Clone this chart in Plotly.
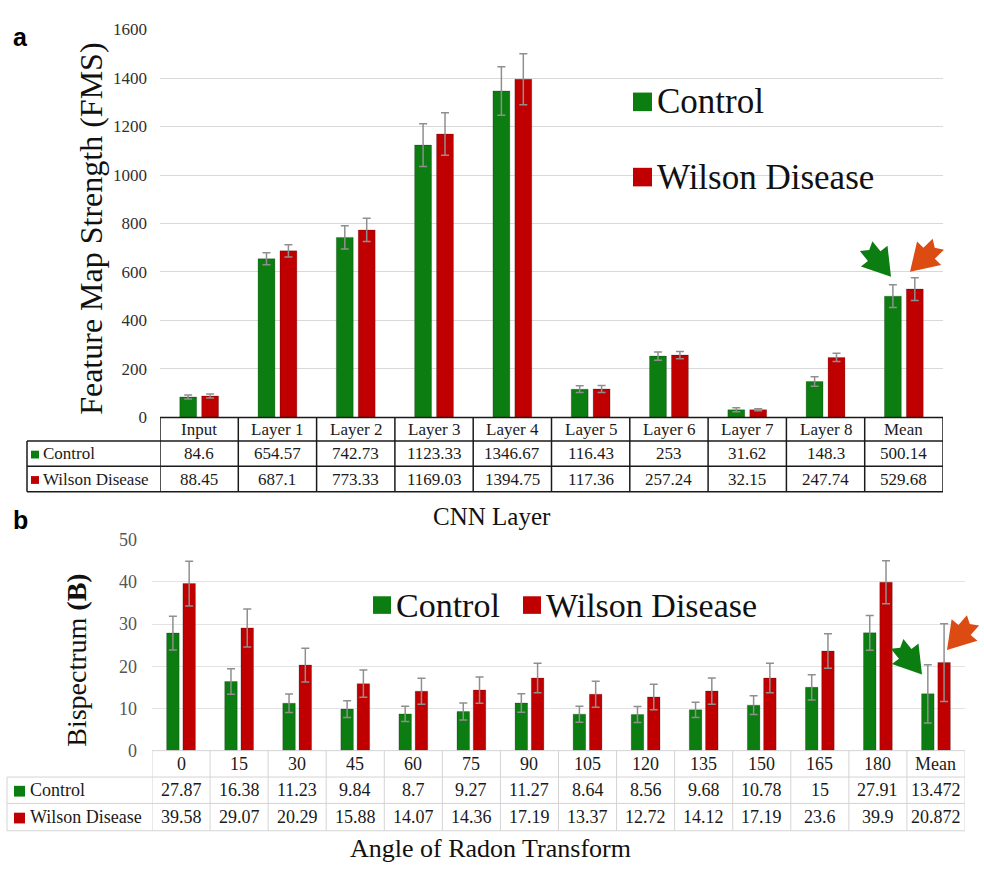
import math
import plotly.graph_objects as go

W, H = 984, 874

# ---- Panel a: feature map strength per CNN layer ----
layers = ["Input", "Layer 1", "Layer 2", "Layer 3", "Layer 4",
          "Layer 5", "Layer 6", "Layer 7", "Layer 8", "Mean"]
fms_control = [84.6, 654.57, 742.73, 1123.33, 1346.67, 116.43, 253, 31.62, 148.3, 500.14]
fms_wilson = [88.45, 687.1, 773.33, 1169.03, 1394.75, 117.36, 257.24, 32.15, 247.74, 529.68]
fms_control_err = [8, 25, 48, 88, 100, 14, 17, 8, 20, 47]
fms_wilson_err = [8, 25, 48, 88, 105, 14, 15, 4, 17, 47]
fms_ticks = [0, 200, 400, 600, 800, 1000, 1200, 1400, 1600]

# ---- Panel b: bispectrum per Radon angle ----
angles = ["0", "15", "30", "45", "60", "75", "90", "105", "120",
          "135", "150", "165", "180", "Mean"]
bis_control = [27.87, 16.38, 11.23, 9.84, 8.7, 9.27, 11.27, 8.64, 8.56, 9.68, 10.78, 15, 27.91, 13.472]
bis_wilson = [39.58, 29.07, 20.29, 15.88, 14.07, 14.36, 17.19, 13.37, 12.72, 14.12, 17.19, 23.6, 39.9, 20.872]
bis_control_err = [4, 3, 2.2, 2, 1.8, 2, 2.2, 1.9, 1.9, 1.8, 2.2, 3, 4.1, 6.9]
bis_wilson_err = [5.3, 4.5, 4, 3.2, 3.1, 3.1, 3.5, 3.1, 3, 3.1, 3.5, 4.1, 5.1, 9.2]
bis_ticks = [0, 10, 20, 30, 40, 50]

series_names = ["Control", "Wilson Disease"]

GREEN = "#0c7d10"
RED = "#c00000"
ORANGE = "#db4b12"
ERR = "#8f8f8f"
SERIF = "Liberation Serif"


def px(x):
    return x / W


def py(y):
    return 1 - y / H


# plot areas (pixel boxes)
A_LEFT, A_RIGHT, A_TOP, A_BOTTOM = 160, 943, 20, 417
B_LEFT, B_RIGHT, B_TOP, B_BOTTOM = 152, 965, 542, 758

fig = go.Figure()


def add_bars(cats, vals, errs, color, name, xa, ya):
    fig.add_trace(go.Bar(
        x=cats, y=vals, name=name, marker_color=color,
        marker_line=dict(width=0.6, color="rgba(0,0,0,0.35)"),
        error_y=dict(type="data", array=errs, color=ERR, thickness=1.5, width=4),
        xaxis=xa, yaxis=ya, showlegend=False,
    ))


add_bars(layers, fms_control, fms_control_err, GREEN, series_names[0], "x", "y")
add_bars(layers, fms_wilson, fms_wilson_err, RED, series_names[1], "x", "y")
add_bars(angles, bis_control, bis_control_err, GREEN, series_names[0], "x2", "y2")
add_bars(angles, bis_wilson, bis_wilson_err, RED, series_names[1], "x2", "y2")

shapes = []
annotations = []


def fmt(v):
    return f"{v:g}"


def draw_table(xref, cats, rows, label_left, plot_left, plot_right, row_edges,
               line_color, line_width, font_size, sq, sq_x, text_x, text_color):
    n = len(cats)
    top, r1, r2, bottom = row_edges
    # vertical cell borders at category boundaries (category serial positions)
    for i in range(n + 1):
        shapes.append(dict(type="line", xref=xref, yref="paper",
                           x0=i - 0.5, x1=i - 0.5, y0=py(top), y1=py(bottom),
                           line=dict(color=line_color, width=line_width)))
    # left border of the row-label column
    shapes.append(dict(type="line", xref="paper", yref="paper",
                       x0=px(label_left), x1=px(label_left), y0=py(r1), y1=py(bottom),
                       line=dict(color=line_color, width=line_width)))
    # horizontal borders
    shapes.append(dict(type="line", xref="paper", yref="paper",
                       x0=px(plot_left), x1=px(plot_right), y0=py(top), y1=py(top),
                       line=dict(color=line_color, width=line_width)))
    for y in (r1, r2, bottom):
        shapes.append(dict(type="line", xref="paper", yref="paper",
                           x0=px(label_left), x1=px(plot_right), y0=py(y), y1=py(y),
                           line=dict(color=line_color, width=line_width)))
    # header text
    hc = (top + r1) / 2
    for i, c in enumerate(cats):
        annotations.append(dict(xref=xref, yref="paper", x=i, y=py(hc), text=c,
                                showarrow=False, xanchor="center", yanchor="middle",
                                font=dict(family=SERIF, size=font_size, color=text_color)))
    # data rows
    centers = [(r1 + r2) / 2, (r2 + bottom) / 2]
    for (name, color, vals), yc in zip(rows, centers):
        shapes.append(dict(type="rect", xref="paper", yref="paper",
                           x0=px(sq_x), x1=px(sq_x + sq),
                           y0=py(yc - sq / 2 + 1), y1=py(yc + sq / 2 + 1),
                           fillcolor=color, line=dict(width=0)))
        annotations.append(dict(xref="paper", yref="paper", x=px(text_x), y=py(yc),
                                text=name, showarrow=False, xanchor="left", yanchor="middle",
                                font=dict(family=SERIF, size=font_size, color=text_color)))
        for i, v in enumerate(vals):
            annotations.append(dict(xref=xref, yref="paper", x=i, y=py(yc), text=fmt(v),
                                    showarrow=False, xanchor="center", yanchor="middle",
                                    font=dict(family=SERIF, size=font_size, color=text_color)))


draw_table("x", layers,
           [(series_names[0], GREEN, fms_control), (series_names[1], RED, fms_wilson)],
           27, A_LEFT, A_RIGHT, (417, 441, 467, 493),
           "#1a1a1a", 1.5, 17, 8, 31, 41, "#1a1a1a")
draw_table("x2", angles,
           [(series_names[0], GREEN, bis_control), (series_names[1], RED, bis_wilson)],
           7, B_LEFT, B_RIGHT, (758, 785, 812, 840),
           "#d4d4d4", 1, 18, 11, 14, 28, "#1a1a1a")


def legend_item(x, y, size, color, label, font_size):
    shapes.append(dict(type="rect", xref="paper", yref="paper",
                       x0=px(x), x1=px(x + size), y0=py(y - size / 2), y1=py(y + size / 2),
                       fillcolor=color, line=dict(width=0)))
    annotations.append(dict(xref="paper", yref="paper", x=px(x + size + 3), y=py(y),
                            text=label, showarrow=False, xanchor="left", yanchor="middle",
                            font=dict(family=SERIF, size=font_size, color="#111111")))


legend_item(633, 94, 19, GREEN, series_names[0], 35)
legend_item(633, 171, 19, RED, series_names[1], 35)
legend_item(373, 609, 18, GREEN, series_names[0], 34)
legend_item(523, 609, 18, RED, series_names[1], 34)


def block_arrow(tip, dx, dy, color, length=40, head_len=27, head_w=34, shaft_w=16, notch=5):
    norm = math.hypot(dx, dy)
    ux, uy = dx / norm, dy / norm        # tail -> tip direction
    nx, ny = -uy, ux
    tx, ty = tip
    local = [(0, 0), (head_len, head_w / 2), (head_len, shaft_w / 2),
             (length, shaft_w / 2), (length - notch, 0), (length, -shaft_w / 2),
             (head_len, -shaft_w / 2), (head_len, -head_w / 2)]
    pts = [(tx - a * ux + b * nx, ty - a * uy + b * ny) for a, b in local]
    path = "M " + " L ".join(f"{px(x):.5f},{py(y):.5f}" for x, y in pts) + " Z"
    shapes.append(dict(type="path", xref="paper", yref="paper", path=path,
                       fillcolor=color, line=dict(width=0)))


block_arrow((891, 273), 0.62, 0.78, GREEN)
block_arrow((910, 268), -0.7, 0.7, ORANGE)
block_arrow((922, 680), 0.62, 0.78, GREEN)
block_arrow((947, 655), -0.65, 0.76, ORANGE)

# axis titles and panel letters
annotations += [
    dict(xref="paper", yref="paper", x=px(91), y=py(224), text="Feature Map Strength (FMS)",
         textangle=-90, showarrow=False, xanchor="center", yanchor="middle",
         font=dict(family=SERIF, size=32, color="#111111")),
    dict(xref="paper", yref="paper", x=px(77), y=py(666), text="Bispectrum <b>(B)</b>",
         textangle=-90, showarrow=False, xanchor="center", yanchor="middle",
         font=dict(family=SERIF, size=28, color="#111111")),
    dict(xref="paper", yref="paper", x=px(492), y=py(518), text="CNN Layer",
         showarrow=False, xanchor="center", yanchor="middle",
         font=dict(family=SERIF, size=25, color="#111111")),
    dict(xref="paper", yref="paper", x=px(490), y=py(858), text="Angle of Radon Transform",
         showarrow=False, xanchor="center", yanchor="middle",
         font=dict(family=SERIF, size=26, color="#111111")),
    dict(xref="paper", yref="paper", x=px(11), y=py(28), text="<b>a</b>",
         showarrow=False, xanchor="left", yanchor="middle",
         font=dict(family="Liberation Sans", size=25, color="#000000")),
    dict(xref="paper", yref="paper", x=px(11), y=py(522), text="<b>b</b>",
         showarrow=False, xanchor="left", yanchor="middle",
         font=dict(family="Liberation Sans", size=25, color="#000000")),
]

fig.update_layout(
    width=W, height=H,
    margin=dict(l=0, r=0, t=0, b=0),
    paper_bgcolor="white", plot_bgcolor="white",
    barmode="group", bargap=0.44, bargroupgap=0.23,
    showlegend=False,
    xaxis=dict(domain=[px(A_LEFT), px(A_RIGHT)], type="category", anchor="y",
               range=[-0.5, len(layers) - 0.5],
               showticklabels=False, showgrid=False, zeroline=False, showline=False),
    yaxis=dict(domain=[py(A_BOTTOM), py(A_TOP)], range=[0, 1600], tickvals=fms_ticks,
               anchor="x", showgrid=True, gridcolor="#d9d9d9", gridwidth=1,
               zeroline=False, showline=False, ticks="", ticklabelstandoff=12,
               tickfont=dict(family=SERIF, size=17, color="#303030")),
    xaxis2=dict(domain=[px(B_LEFT), px(B_RIGHT)], type="category", anchor="y2",
                range=[-0.5, len(angles) - 0.5],
                showticklabels=False, showgrid=False, zeroline=False, showline=False),
    yaxis2=dict(domain=[py(B_BOTTOM), py(B_TOP)], range=[0, 50], tickvals=bis_ticks,
                anchor="x2", showgrid=True, gridcolor="#e3e3e3", gridwidth=1,
                zeroline=False, showline=False, ticks="", ticklabelstandoff=14,
                tickfont=dict(family=SERIF, size=18, color="#555555")),
    shapes=shapes,
    annotations=annotations,
)

fig.write_html("out.html")
